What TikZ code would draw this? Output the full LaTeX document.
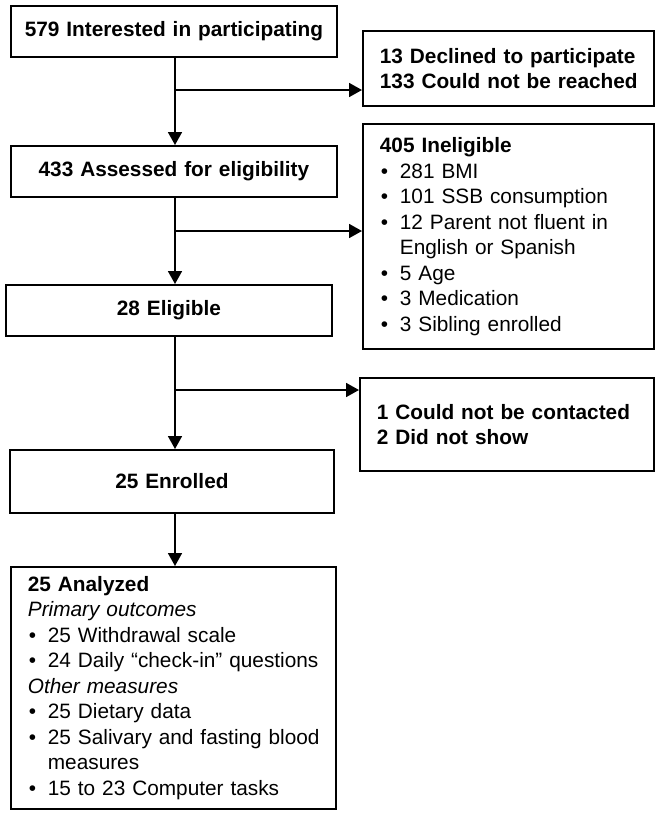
\documentclass[tikz,border=0pt]{standalone}
\usepackage{fontspec}
\setmainfont{Liberation Sans}
\usetikzlibrary{arrows.meta}
\tikzset{
    every node/.style={draw, rectangle, line width=1.8pt, inner sep=0pt, anchor=north west,
        font=\fontsize{20.8}{25.5}\selectfont}
}
\tikzset{mid/.style={align=center}}
\tikzset{side/.style={align=left, execute at begin node={\leftskip=17pt\relax}}}
\tikzset{flow/.style={line width=1.8pt, -{Triangle[length=13pt, width=14pt]}}}
\newcommand{\bul}{\makebox[20pt][l]{\hspace{1pt}\textbullet}}
\newcommand{\hang}{\hspace*{20pt}}

\begin{document}
\begin{tikzpicture}[x=1pt, y=-1pt]
        \useasboundingbox (0,0) rectangle (657,815);
        \node (interested) [mid, text width=326pt, minimum height=51pt] at (10,5) {\textbf{579 Interested in participating}};
        \node (declined) [side, text width=291pt, minimum height=75pt] at (362,30) {\textbf{13 Declined to participate}\\\textbf{133 Could not be reached}};
        \node (assessed) [mid, text width=326pt, minimum height=51pt] at (10,145) {\textbf{433 Assessed for eligibility}};
        \node (ineligible) [side, text width=291pt, minimum height=225pt] at (362,123) {\textbf{405 Ineligible}\\\bul 281 BMI\\\bul 101 SSB consumption\\\bul 12 Parent not fluent in\\\hang English or Spanish\\\bul 5 Age\\\bul 3 Medication\\\bul 3 Sibling enrolled};
        \node (eligible) [mid, text width=326pt, minimum height=51pt] at (5,284) {\textbf{28 Eligible}};
        \node (notshown) [side, text width=294pt, minimum height=93pt] at (359,377) {\textbf{1 Could not be contacted}\\\textbf{2 Did not show}};
        \node (enrolled) [mid, text width=324pt, minimum height=63pt] at (9,449) {\textbf{25 Enrolled}};
        \node (analyzed) [side, text width=325pt, minimum height=242pt] at (10,566) {\textbf{25 Analyzed}\\\textit{Primary outcomes}\\\bul 25 Withdrawal scale\\\bul 24 Daily “check-in” questions\\\textit{Other measures}\\\bul 25 Dietary data\\\bul 25 Salivary and fasting blood\\\hang measures\\\bul 15 to 23 Computer tasks};
        \coordinate (b1) at (175,90);
        \coordinate (b2) at (175,231);
        \coordinate (b3) at (175,390);
        \draw[flow] (interested.south -| b1) -- (assessed.north -| b1);
        \draw[flow] (b1) -- (b1 -| declined.west);
        \draw[flow] (assessed.south -| b2) -- (eligible.north -| b2);
        \draw[flow] (b2) -- (b2 -| ineligible.west);
        \draw[flow] (eligible.south -| b3) -- (enrolled.north -| b3);
        \draw[flow] (b3) -- (b3 -| notshown.west);
        \draw[flow] (enrolled.south -| b3) -- (analyzed.north -| b3);
\end{tikzpicture}
\end{document}
